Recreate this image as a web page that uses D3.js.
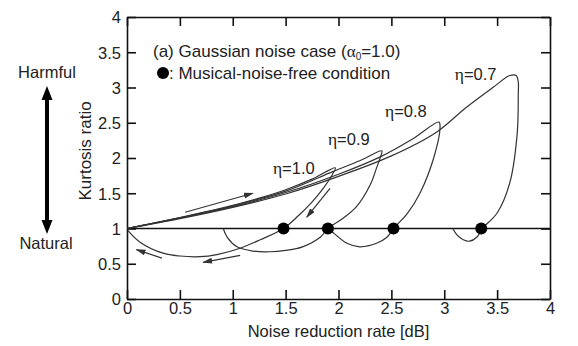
<!DOCTYPE html>
<html>
<head>
<meta charset="utf-8">
<script src="https://cdn.jsdelivr.net/npm/d3@7"></script>
<style>
  html, body { margin: 0; padding: 0; background: #fff; }
  svg text { font-family: "Liberation Sans", Arial, sans-serif; fill: #222; }
</style>
</head>
<body>
<svg id="chart" width="578" height="346"></svg>
<script>
// Tick values for both axes
const xTicks = [0, 0.5, 1, 1.5, 2, 2.5, 3, 3.5, 4];
const yTicks = [0, 0.5, 1, 1.5, 2, 2.5, 3, 3.5, 4];
const xTickLabels = ["0", "0.5", "1", "1.5", "2", "2.5", "3", "3.5", "4"];
const yTickLabels = ["0", "0.5", "1", "1.5", "2", "2.5", "3", "3.5", "4"];

// Trajectories [noise reduction rate, kurtosis ratio] for each eta
const etaNames = ["\u03b7=1.0", "\u03b7=0.9", "\u03b7=0.8", "\u03b7=0.7"];
const eta10 = [[0,1],[0.25,1.075],[0.5,1.155],[0.75,1.24],[1.0,1.33],[1.25,1.43],[1.5,1.55],[1.75,1.70],[1.97,1.86],
  [1.94,1.76],[1.85,1.56],[1.74,1.36],[1.62,1.18],[1.48,1.0],[1.26,0.84],[1.07,0.72],[0.85,0.63],[0.69,0.60],[0.5,0.61],[0.34,0.65],[0.12,0.81],[0.01,0.97]];
const eta09 = [[0,1],[0.5,1.15],[1.0,1.32],[1.5,1.53],[1.95,1.81],[2.2,1.96],[2.41,2.10],
  [2.40,2.03],[2.36,1.86],[2.30,1.62],[2.17,1.31],[2.03,1.13],[1.90,1.0],[1.83,0.88],[1.66,0.74],[1.50,0.69],[1.35,0.67],[1.19,0.68],[1.04,0.74],[0.95,0.87],[0.91,1.0]];
const eta08 = [[0,1],[0.5,1.15],[1.0,1.31],[1.5,1.51],[2.0,1.77],[2.4,2.02],[2.7,2.27],[2.95,2.51],
  [2.96,2.43],[2.90,2.0],[2.77,1.50],[2.65,1.21],[2.52,1.0],[2.46,0.88],[2.36,0.79],[2.20,0.74],[2.08,0.79],[1.95,0.94],[1.90,1.0]];
const eta07 = [[0,1],[0.5,1.14],[1.0,1.30],[1.5,1.49],[2.0,1.74],[2.5,2.03],[2.93,2.37],[3.21,2.72],[3.46,3.0],[3.62,3.17],[3.68,3.17],
  [3.70,3.08],[3.70,2.92],[3.69,2.35],[3.62,1.65],[3.50,1.22],[3.36,1.0],[3.31,0.88],[3.24,0.82],[3.18,0.84],[3.12,0.91],[3.08,1.0]];

// Musical-noise-free points (kurtosis ratio = 1)
const freeX = [1.48, 1.90, 2.52, 3.35];
const freeY = [1, 1, 1, 1];

// Label anchor points for each eta curve
const labelX = [1.38, 1.9, 2.44, 3.1];
const labelY = [1.78, 2.18, 2.58, 3.1];

// Direction arrows [x0, y0, x1, y1]
const dirArrows = [[0.55,1.23,1.19,1.50],[1.92,1.57,1.70,1.16],[0.33,0.58,0.09,0.70],[1.07,0.62,0.72,0.52]];

const svg = d3.select("#chart");
const x = d3.scaleLinear().domain([0, 4]).range([127, 550]);
const y = d3.scaleLinear().domain([0, 4]).range([299, 17]);
const FS = 16.5;

// Arrowhead marker
svg.append("defs").append("marker")
  .attr("id", "ah").attr("viewBox", "0 0 10 6").attr("refX", 9).attr("refY", 3)
  .attr("markerWidth", 10).attr("markerHeight", 6).attr("markerUnits", "userSpaceOnUse")
  .attr("orient", "auto")
  .append("path").attr("d", "M0,0 L10,3 L0,6 Z").attr("fill", "#333");

// Axes with inward ticks
const fmtX = (d, i) => xTickLabels[i];
const fmtY = (d, i) => yTickLabels[i];
const gB = svg.append("g").attr("transform", `translate(0,${y(0)})`)
  .call(d3.axisBottom(x).tickValues(xTicks).tickFormat(fmtX).tickSizeInner(-9).tickSizeOuter(0).tickPadding(2));
const gT = svg.append("g").attr("transform", `translate(0,${y(4)})`)
  .call(d3.axisTop(x).tickValues(xTicks).tickFormat("").tickSizeInner(-9).tickSizeOuter(0));
const gL = svg.append("g").attr("transform", `translate(${x(0)},0)`)
  .call(d3.axisLeft(y).tickValues(yTicks).tickFormat(fmtY).tickSizeInner(-9).tickSizeOuter(0).tickPadding(6));
const gR = svg.append("g").attr("transform", `translate(${x(4)},0)`)
  .call(d3.axisRight(y).tickValues(yTicks).tickFormat("").tickSizeInner(-9).tickSizeOuter(0));
[gB, gT, gL, gR].forEach(g => {
  g.select(".domain").attr("stroke", "#111").attr("stroke-width", 1.6);
  g.selectAll(".tick line").attr("stroke", "#111").attr("stroke-width", 1.6);
  g.selectAll(".tick text").attr("font-size", FS).attr("fill", "#222")
    .attr("font-family", "Liberation Sans, Arial, sans-serif");
});
gB.selectAll(".tick text").attr("dy", "0.8em");
gL.selectAll(".tick text").attr("dy", "0.36em");

// Reference line at kurtosis ratio 1
svg.append("line")
  .attr("x1", x(0)).attr("x2", x(4)).attr("y1", y(1)).attr("y2", y(1))
  .attr("stroke", "#111").attr("stroke-width", 1.6);

// Trajectories
const line = d3.line().x(d => x(d[0])).y(d => y(d[1])).curve(d3.curveCatmullRom.alpha(0.5));
[eta10, eta09, eta08, eta07].forEach(c => {
  svg.append("path").attr("d", line(c)).attr("fill", "none")
    .attr("stroke", "#333").attr("stroke-width", 1.2);
});

// Direction arrows
dirArrows.forEach(a => {
  svg.append("line")
    .attr("x1", x(a[0])).attr("y1", y(a[1])).attr("x2", x(a[2])).attr("y2", y(a[3]))
    .attr("stroke", "#333").attr("stroke-width", 1.2).attr("marker-end", "url(#ah)");
});

// Musical-noise-free markers
freeX.forEach((v, i) => {
  svg.append("circle").attr("cx", x(v)).attr("cy", y(freeY[i])).attr("r", 6).attr("fill", "#000");
});

// Curve labels
etaNames.forEach((t, i) => {
  const txt = svg.append("text").attr("x", x(labelX[i])).attr("y", y(labelY[i])).attr("font-size", FS);
  txt.append("tspan").attr("font-family", "Liberation Serif, serif").attr("font-size", FS + 1).text(t[0]);
  txt.append("tspan").text(t.slice(1));
});

// Title and legend
const t1 = svg.append("text").attr("x", 153).attr("y", 57).attr("font-size", 17);
t1.append("tspan").text("(a) Gaussian noise case (");
t1.append("tspan").attr("font-family", "Liberation Serif, serif").text("\u03b1");
t1.append("tspan").attr("font-size", 10).attr("dy", 3).text("0");
t1.append("tspan").attr("dy", -3).text("=1.0)");
svg.append("circle").attr("cx", 163).attr("cy", 73).attr("r", 6).attr("fill", "#000");
svg.append("text").attr("x", 169).attr("y", 79).attr("font-size", 17).text(": Musical-noise-free condition");

// Axis titles
svg.append("text").attr("x", x(2)).attr("y", 337).attr("text-anchor", "middle").attr("font-size", 16.5)
  .text("Noise reduction rate [dB]");
svg.append("text").attr("transform", `translate(91,${y(2.1)}) rotate(-90)`).attr("text-anchor", "middle")
  .attr("font-size", 17).text("Kurtosis ratio");

// Harmful / Natural scale
svg.append("text").attr("x", 47).attr("y", 78).attr("text-anchor", "middle").attr("font-size", FS).text("Harmful");
svg.append("text").attr("x", 46).attr("y", 249).attr("text-anchor", "middle").attr("font-size", FS).text("Natural");
svg.append("line").attr("x1", 47).attr("x2", 47).attr("y1", 98).attr("y2", 222)
  .attr("stroke", "#000").attr("stroke-width", 4);
svg.append("path").attr("d", "M47,86 L41.5,100 L52.5,100 Z").attr("fill", "#000");
svg.append("path").attr("d", "M47,234 L41.5,220 L52.5,220 Z").attr("fill", "#000");
</script>
</body>
</html>
